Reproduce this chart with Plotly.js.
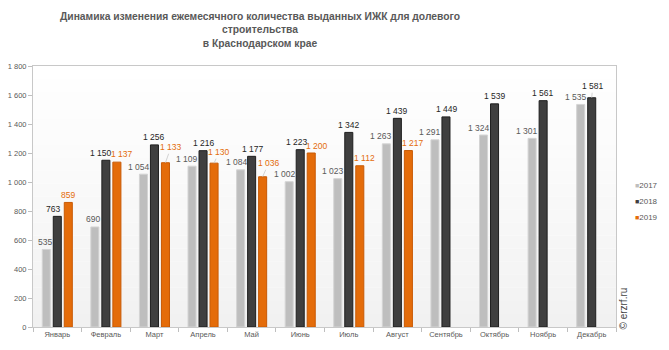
<!DOCTYPE html>
<html>
<head>
<meta charset="utf-8">
<script src="https://cdn.plot.ly/plotly-3.0.1.min.js"></script>
<style>html,body{margin:0;padding:0;background:#fff;}#chart{width:669px;height:350px;}</style>
</head>
<body>
<div id="chart"></div>
<script>
const months = ["Январь","Февраль","Март","Апрель","Май","Июнь","Июль","Август","Сентябрь","Октябрь","Ноябрь","Декабрь"];
const years = ["2017","2018","2019"];
const v2017 = [535, 690, 1054, 1109, 1084, 1002, 1023, 1263, 1291, 1324, 1301, 1535];
const v2018 = [763, 1150, 1256, 1216, 1177, 1223, 1342, 1439, 1449, 1539, 1561, 1581];
const v2019 = [859, 1137, 1133, 1130, 1036, 1200, 1112, 1217];
const yTicks = [0, 200, 400, 600, 800, 1000, 1200, 1400, 1600, 1800];

// styling
const FONT = "'Liberation Sans', Arial, sans-serif";
const fills = ["#bebebe", "#3f3f3f", "#e46c0a"];
const lines = ["#d4d4d4", "#1f1f1f", "#c85a05"];
const labelColors = ["#595959", "#262626", "#e46c0a"];
// label nudges (px): [dx, extra dy, leader]
const nudge2017 = [[-1,0],[-2,0],[-4,0],[-5.5,0],[-4,0],[-4.5,0],[-4.5,0],[-5,0],[-5,0],[-4.3,0],[-5,0],[-4.5,0]];
const nudge2018 = [[-4,0],[-5,0],[0,0],[1,0],[1,0],[-3.3,0],[0.7,0],[0,0],[1,0],[0,0],[0,0],[1,4,1]];
const nudge2019 = [[0,0],[5,1],[5.5,8,1],[5,3.5,1],[6,6,1],[5.5,0],[5,0],[4.7,0]];

const series = [v2017, v2018, v2019];
const nudges = [nudge2017, nudge2018, nudge2019];
const slot = 11;

const traces = series.map((vals, i) => ({
  type: "bar",
  name: years[i],
  x: months.slice(0, vals.length),
  y: vals,
  marker: {color: fills[i], line: {color: lines[i], width: 1}},
  hoverinfo: "x+y+name",
  showlegend: false
}));

function fmt(n) {
  const s = String(n);
  return s.length > 3 ? s.slice(0, s.length - 3) + " " + s.slice(-3) : s;
}

const annotations = [];
series.forEach((vals, i) => {
  vals.forEach((v, j) => {
    const nd = nudges[i][j];
    annotations.push({
      x: months[j], y: v, xref: "x", yref: "y",
      xshift: (i - 1) * slot,
      text: fmt(v),
      showarrow: true,
      arrowhead: 0, arrowwidth: 0.8,
      arrowcolor: nd[2] ? "#c8c8c8" : "rgba(0,0,0,0)",
      ax: nd[0], ay: -(7.5 + nd[1]),
      font: {family: FONT, size: 8.5, color: labelColors[i]}
    });
  });
});

// legend
years.forEach((yr, i) => {
  annotations.push({
    xref: "paper", yref: "paper", x: 1.0295, y: 0.544 - i * 0.0615,
    xanchor: "left", yanchor: "middle", showarrow: false,
    text: "<span style='color:" + fills[i] + ";font-size:7px'>■</span>" + yr,
    font: {family: FONT, size: 8, color: "#595959"}
  });
});

// watermark
annotations.push({
  xref: "paper", yref: "paper", x: 1.0125, y: 0.072, xanchor: "center", yanchor: "middle",
  textangle: -90, showarrow: false, text: "© erzrf.ru",
  font: {family: FONT, size: 10, color: "#404040"}
});

// background vertical gradient
const shapes = [];
const N = 20;
for (let k = 0; k < N; k++) {
  const t = (k + 0.5) / N; // 0 bottom -> 1 top
  const c = Math.round(240 + (255 - 240) * Math.pow(t, 0.8));
  shapes.push({
    type: "rect", xref: "paper", yref: "paper", layer: "below",
    x0: 0, x1: 1, y0: k / N, y1: (k + 1) / N,
    fillcolor: "rgb(" + c + "," + c + "," + c + ")", line: {width: 0}
  });
}

const layout = {
  width: 669, height: 350,
  margin: {l: 33, r: 53, t: 66, b: 23, pad: 0},
  paper_bgcolor: "#ffffff",
  plot_bgcolor: "#ffffff",
  separators: ", ",
  barmode: "group",
  bargap: 0.32,
  bargroupgap: 0.27,
  title: {
    text: "Динамика изменения ежемесячного количества выданных ИЖК для долевого<br>строительства<br>в Краснодарском крае",
    font: {family: FONT, size: 10.3, color: "#595959", weight: "bold"},
    xref: "container", yref: "container", x: 0.3886, xanchor: "center",
    y: 0.943, yanchor: "middle"
  },
  xaxis: {
    type: "category", categoryorder: "array", categoryarray: months,
    showline: true, linecolor: "#c8c8c8", linewidth: 1, mirror: true,
    ticks: "outside", tickson: "boundaries", ticklen: 4, tickcolor: "#bfbfbf",
    tickangle: 0,
    tickfont: {family: FONT, size: 7.5, color: "#595959"},
    showgrid: false, zeroline: false, fixedrange: true
  },
  yaxis: {
    range: [0, 1800], tickvals: yTicks, tickformat: ",d",
    showline: true, linecolor: "#c8c8c8", linewidth: 1, mirror: true,
    ticks: "outside", ticklen: 4, tickcolor: "#bfbfbf",
    tickfont: {family: FONT, size: 7.5, color: "#595959"},
    showgrid: false, zeroline: false, fixedrange: true
  },
  shapes: shapes,
  annotations: annotations
};

Plotly.newPlot("chart", traces, layout, {displayModeBar: false, staticPlot: true});
</script>
</body>
</html>
